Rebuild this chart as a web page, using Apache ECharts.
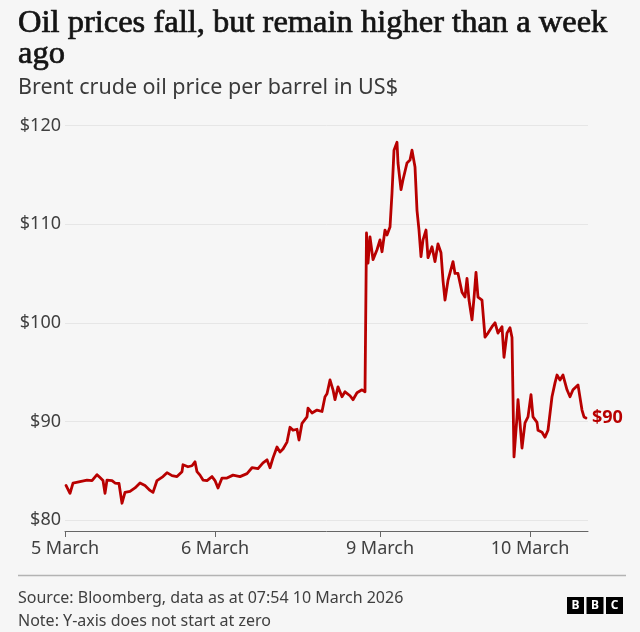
<!DOCTYPE html>
<html>
<head>
<meta charset="utf-8">
<script src="https://cdn.jsdelivr.net/npm/echarts@6/dist/echarts.min.js"></script>
<style>
  html, body { margin: 0; padding: 0; background: #f6f6f6; }
  #chart { width: 640px; height: 632px; }
</style>
</head>
<body>
<div id="chart"></div>
<script>
// x is trading hours counted from the start of 5 March (weekend left out)
var dayLabels = ['5 March', '6 March', '9 March', '10 March'];
var dayHours = [0, 24, 50.4, 74.4];

var hours = [
  0.16, 0.8, 1.28, 2.4, 3.52, 4.32, 5.12, 5.6, 6.08, 6.4, 6.72, 7.52, 8.0, 8.64, 8.96, 9.12,
  9.6, 10.4, 11.2, 12.0, 12.8, 13.6, 14.08, 14.72, 15.68, 16.32, 17.12, 17.92, 18.72, 18.88,
  19.68, 20.32, 20.8, 21.12, 21.6, 22.08, 22.72, 23.52, 24.0, 24.48, 25.12, 25.92, 26.88,
  28.0, 29.12, 29.92, 30.88, 31.68, 32.32, 32.8, 33.28, 33.92, 34.4, 34.88, 35.52, 36.0,
  36.48, 37.12, 37.44, 37.92, 38.72, 38.88, 39.52, 40.32, 41.12, 41.6, 41.92, 42.4, 42.88,
  43.2, 43.68, 44.32, 44.8, 45.6, 46.08, 46.72, 47.52, 48.0, 48.24, 48.48, 48.8, 49.28,
  49.92, 50.4, 50.72, 51.2, 51.52, 52.0, 52.32, 52.64, 53.12, 53.28, 53.76, 54.08, 54.72,
  55.2, 55.52, 56.0, 56.32, 56.64, 56.96, 57.28, 57.76, 58.08, 58.72, 59.2, 59.68, 60.16,
  60.48, 60.8, 61.28, 62.08, 62.4, 62.88, 63.52, 64.0, 64.32, 64.64, 65.12, 65.44, 65.76,
  66.08, 66.72, 67.2, 67.68, 68.32, 68.8, 69.28, 69.92, 70.24, 70.72, 71.2, 71.52, 71.84,
  72.32, 72.48, 72.8, 73.12, 73.6, 74.08, 74.56, 74.88, 75.52, 75.68, 76.32, 76.8, 77.28,
  77.92, 78.4, 78.72, 79.2, 79.68, 80.32, 80.8, 81.28, 82.08, 82.4, 82.72, 83.04, 83.36
];

var price = [
  83.5, 82.7, 83.75, 83.9, 84.05, 84.0, 84.6, 84.3, 84.0, 82.7, 84.05, 84.0, 83.75, 83.7, 82.35, 81.7,
  82.8, 82.9, 83.25, 83.75, 83.5, 83.0, 82.8, 84.0, 84.4, 84.8, 84.5, 84.4, 84.9, 85.6,
  85.4, 85.5, 85.9, 84.9, 84.55, 84.05, 84.0, 84.4, 84.0, 83.25, 84.25, 84.25, 84.55,
  84.4, 84.7, 85.3, 85.2, 85.8, 86.1, 85.3, 86.3, 87.4, 86.9, 87.2, 87.9, 89.4,
  89.1, 89.2, 88.1, 89.8, 90.45, 91.35, 90.85, 91.15, 91.0, 92.5, 92.8, 94.2, 93.2,
  92.2, 93.5, 92.5, 93.0, 92.6, 92.2, 92.9, 93.2, 93.0, 109.1, 106.05, 108.7, 106.4,
  107.4, 108.4, 107.2, 109.4, 108.9, 109.7, 113.15, 117.5, 118.3, 116.2, 113.5, 114.5, 116.2,
  116.5, 117.5, 115.8, 111.4, 109.4, 106.7, 108.4, 109.4, 106.6, 107.7, 106.2, 108.0, 107.1,
  104.3, 102.3, 104.3, 106.2, 105.0, 105.0, 103.1, 102.6, 104.5, 102.3, 100.3, 102.5, 105.1,
  102.6, 102.3, 98.55, 98.95, 99.6, 100.0, 98.95, 99.6, 96.5, 98.95, 99.5, 98.5, 86.4,
  90.45, 92.2, 89.85, 87.3, 89.85, 90.45, 92.7, 90.45, 89.9, 89.1, 88.9, 88.4, 89.1,
  92.5, 93.9, 94.7, 94.2, 94.7, 93.2, 92.5, 93.2, 93.7, 93.5, 91.15, 90.45, 90.35
];

var chart = echarts.init(document.getElementById('chart'));

var seriesData = [];
for (var i = 0; i < hours.length; i++) {
  seriesData.push([hours[i], price[i]]);
}

var option = {
  backgroundColor: '#f6f6f6',
  animation: false,
  textStyle: { fontFamily: 'Noto Sans' },
  title: [
    {
      text: 'Oil prices fall, but remain higher than a week\nago',
      left: 18,
      top: 8,
      padding: 0,
      textStyle: {
        fontFamily: 'Liberation Serif',
        fontWeight: 'normal',
        fontSize: 32.5,
        lineHeight: 31,
        color: '#141414',
        textBorderColor: '#141414',
        textBorderWidth: 0.7
      }
    },
    {
      text: 'Brent crude oil price per barrel in US$',
      left: 18,
      top: 75,
      padding: 0,
      textStyle: {
        fontFamily: 'Noto Sans',
        fontWeight: 'normal',
        fontSize: 21.5,
        lineHeight: 26,
        color: '#3a3a3a'
      }
    }
  ],
  grid: { left: 65, right: 52, top: 125.5, bottom: 112, containLabel: false },
  xAxis: {
    type: 'value',
    min: 0,
    max: 83.68,
    offset: 11,
    splitLine: { show: false },
    axisLine: { show: true, lineStyle: { color: '#666', width: 1 } },
    axisTick: {
      show: true,
      customValues: dayHours,
      length: 6,
      lineStyle: { color: '#666' }
    },
    axisLabel: {
      customValues: dayHours,
      margin: 9,
      fontSize: 18,
      color: '#404040',
      formatter: function (v) {
        var k = dayHours.indexOf(v);
        return k >= 0 ? dayLabels[k] : '';
      }
    }
  },
  yAxis: {
    type: 'value',
    min: 80,
    max: 120,
    interval: 10,
    axisLine: { show: false },
    axisTick: { show: false },
    splitLine: { lineStyle: { color: '#e6e6e6', width: 1 } },
    axisLabel: {
      margin: 4,
      fontSize: 18,
      color: '#404040',
      formatter: function (v) { return '$' + v; }
    }
  },
  series: [{
    type: 'line',
    data: seriesData,
    showSymbol: false,
    lineStyle: { color: '#b80000', width: 2.8, cap: 'round', join: 'round' },
    itemStyle: { color: '#b80000' },
    endLabel: {
      show: true,
      distance: 6,
      fontSize: 18,
      fontWeight: 'bold',
      color: '#b80000',
      formatter: function (p) { return '$' + Math.round(p.value[1]); }
    }
  }],
  graphic: [
    {
      type: 'line',
      shape: { x1: 18, y1: 575.5, x2: 626, y2: 575.5 },
      style: { stroke: '#b3b3b3', lineWidth: 1.5 }
    },
    {
      type: 'text', x: 18, y: 598,
      style: { text: 'Source: Bloomberg, data as at 07:54 10 March 2026', font: '16px "Noto Sans"', fill: '#404040', verticalAlign: 'middle' }
    },
    {
      type: 'text', x: 18, y: 621,
      style: { text: 'Note: Y-axis does not start at zero', font: '16px "Noto Sans"', fill: '#404040', verticalAlign: 'middle' }
    },
    { type: 'rect', shape: { x: 567, y: 597, width: 17, height: 17 }, style: { fill: '#000' } },
    { type: 'rect', shape: { x: 586.5, y: 597, width: 17, height: 17 }, style: { fill: '#000' } },
    { type: 'rect', shape: { x: 606, y: 597, width: 17, height: 17 }, style: { fill: '#000' } },
    { type: 'text', x: 575.5, y: 605.8, style: { text: 'B', font: 'bold 12px "Noto Sans"', fill: '#fff', align: 'center', verticalAlign: 'middle' } },
    { type: 'text', x: 595, y: 605.8, style: { text: 'B', font: 'bold 12px "Noto Sans"', fill: '#fff', align: 'center', verticalAlign: 'middle' } },
    { type: 'text', x: 614.5, y: 605.8, style: { text: 'C', font: 'bold 12px "Noto Sans"', fill: '#fff', align: 'center', verticalAlign: 'middle' } }
  ]
};

chart.setOption(option);
</script>
</body>
</html>
